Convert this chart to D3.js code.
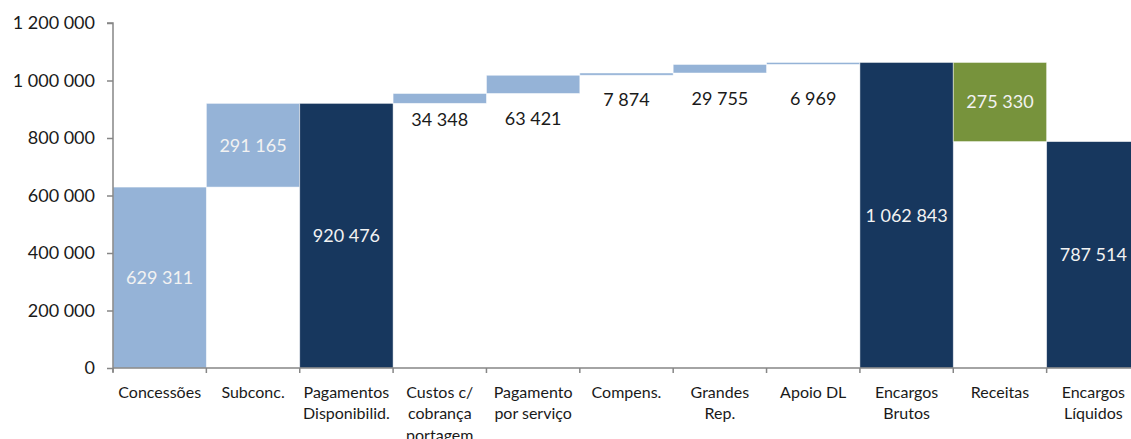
<!DOCTYPE html>
<html>
<head>
<meta charset="utf-8">
<script src="https://cdn.jsdelivr.net/npm/d3@7"></script>
<style>
  html, body { margin: 0; padding: 0; background: #fff; overflow: hidden; }
  svg { display: block; font-family: Lato, "Open Sans", sans-serif; }
</style>
</head>
<body>
<svg id="chart" width="1131" height="439"></svg>
<script>
// ---- data ----
const categories = [
  ["Concessões"], ["Subconc."], ["Pagamentos", "Disponibilid."],
  ["Custos c/", "cobrança", "portagem"], ["Pagamento", "por serviço"],
  ["Compens."], ["Grandes", "Rep."], ["Apoio DL"],
  ["Encargos", "Brutos"], ["Receitas"], ["Encargos", "Líquidos"]
];
const values = [629311, 291165, 920476, 34348, 63421, 7874, 29755, 6969, 1062843, 275330, 787514];
// kind: "inc" = increment, "total" = total from zero, "dec" = decrement
const kinds = ["inc", "inc", "total", "inc", "inc", "inc", "inc", "inc", "total", "dec", "total"];
const yTicks = [0, 200000, 400000, 600000, 800000, 1000000, 1200000];

// ---- layout ----
const margin = { left: 113, top: 23, bottom: 368 };
const plotRight = 1140;
const colors = { inc: "#95B3D7", total: "#17375E", dec: "#77933C" };
const labelColors = { inc: "#F2F2F2", total: "#F2F2F2", dec: "#F2F2F2" };

const svg = d3.select("#chart");
const x = d3.scaleBand().domain(d3.range(categories.length)).range([margin.left, plotRight]).padding(0);
const y = d3.scaleLinear().domain([0, 1200000]).range([margin.bottom, margin.top]);

// compute waterfall segments
let running = 0;
const segs = values.map((v, i) => {
  let lo, hi;
  if (kinds[i] === "total") { lo = 0; hi = v; running = v; }
  else if (kinds[i] === "inc") { lo = running; hi = running + v; running = hi; }
  else { hi = running; lo = running - v; running = lo; }
  return { i, v, lo, hi, kind: kinds[i] };
});

const fmt = v => d3.format(",")(v).replace(/,/g, " ");

// bars
svg.append("g").selectAll("rect").data(segs).join("rect")
  .attr("x", d => x(d.i))
  .attr("width", x.bandwidth())
  .attr("y", d => y(d.hi))
  .attr("height", d => Math.max(0, y(d.lo) - y(d.hi)))
  .attr("fill", d => colors[d.kind])
  .attr("stroke", "rgba(255,255,255,0.6)")
  .attr("stroke-width", 0.8);

// labels: big segments centered, small ones placed below the bar
const smallOffsets = { 3: 16, 4: 25, 5: 24, 6: 26, 7: 34 };
svg.append("g").selectAll("text").data(segs).join("text")
  .attr("x", d => x(d.i) + x.bandwidth() / 2)
  .attr("y", d => d.i in smallOffsets ? y(d.lo) + smallOffsets[d.i] : (y(d.lo) + y(d.hi)) / 2)
  .attr("dy", "0.35em")
  .attr("text-anchor", "middle")
  .attr("font-size", 18)
  .attr("fill", d => d.i in smallOffsets ? "#1a1a1a" : labelColors[d.kind])
  .text(d => fmt(d.v));

// y axis
const yAxis = d3.axisLeft(y).tickValues(yTicks).tickSize(6).tickPadding(12).tickFormat(fmt);
const gy = svg.append("g").attr("transform", `translate(${margin.left},0)`).call(yAxis);
gy.select(".domain").attr("stroke", "#868686").attr("stroke-width", 1.5)
  .attr("d", `M-6,${y(1200000)}H0V${margin.bottom + 4}`);
gy.selectAll(".tick line").attr("stroke", "#868686").attr("stroke-width", 1.5);
gy.selectAll(".tick text").attr("font-size", 18).attr("fill", "#1a1a1a").attr("font-family", "Lato, sans-serif");

// x axis
const gx = svg.append("g");
gx.append("line").attr("x1", margin.left).attr("x2", plotRight)
  .attr("y1", margin.bottom).attr("y2", margin.bottom)
  .attr("stroke", "#868686").attr("stroke-width", 1.5);
gx.selectAll("line.tk").data(d3.range(categories.length + 1)).join("line").attr("class", "tk")
  .attr("x1", i => margin.left + i * x.bandwidth()).attr("x2", i => margin.left + i * x.bandwidth())
  .attr("y1", margin.bottom).attr("y2", margin.bottom + 5)
  .attr("stroke", "#868686").attr("stroke-width", 1.5);
const cl = gx.selectAll("text").data(categories).join("text")
  .attr("text-anchor", "middle")
  .attr("font-size", 16)
  .attr("fill", "#1a1a1a");
cl.each(function(lines, i) {
  d3.select(this).selectAll("tspan").data(lines).join("tspan")
    .attr("x", x(i) + x.bandwidth() / 2)
    .attr("y", (l, k) => 392 + k * 21.5)
    .attr("dy", "0.35em")
    .text(l => l);
});
</script>
</body>
</html>
